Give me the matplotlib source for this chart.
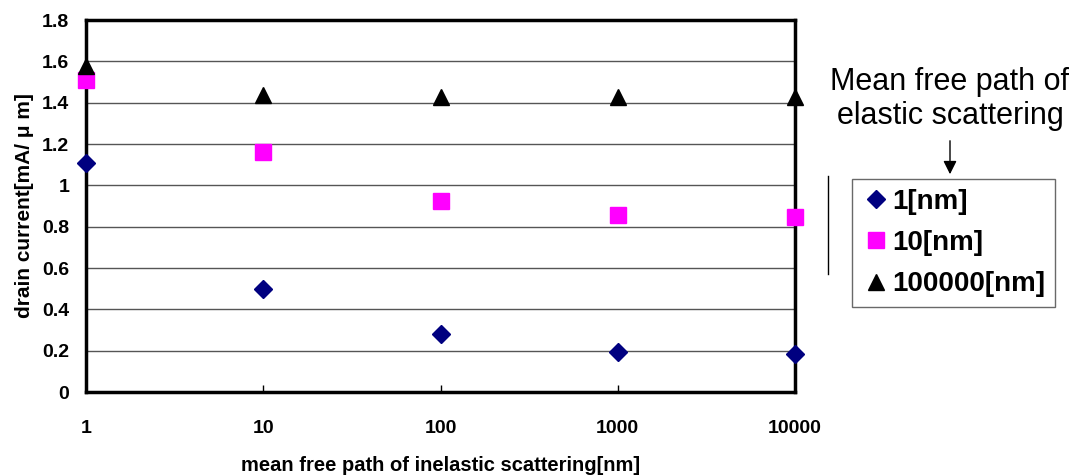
import numpy as np
import matplotlib
matplotlib.use("Agg")
import matplotlib.pyplot as plt

plt.rcParams['font.family'] = ['Liberation Sans', 'DejaVu Sans']

# mean free path of inelastic scattering [nm]
x_inel = [1, 10, 100, 1000, 10000]
# drain current for each elastic mean free path
cur_1nm = [1.108, 0.498, 0.28, 0.194, 0.184]
cur_10nm = [1.51, 1.16, 0.924, 0.856, 0.847]
cur_1e5nm = [1.577, 1.437, 1.428, 1.428, 1.428]
labels = ["1[nm]", "10[nm]", "100000[nm]"]
yticks = [0, 0.2, 0.4, 0.6, 0.8, 1, 1.2, 1.4, 1.6, 1.8]

fig = plt.figure(figsize=(10.76, 4.75), dpi=100)
ax = fig.add_axes([0.0799, 0.1747, 0.659, 0.783])

ax.plot(x_inel, cur_1nm, linestyle="none", marker="D", color="#000080",
        markersize=9, label=labels[0], clip_on=False, zorder=5)
ax.plot(x_inel, cur_10nm, linestyle="none", marker="s", color="#ff00ff",
        markersize=11, label=labels[1], clip_on=False, zorder=5)
ax.plot(x_inel, cur_1e5nm, linestyle="none", marker="^", color="black",
        markersize=12, label=labels[2], clip_on=False, zorder=5)

ax.set_xscale("log")
ax.set_xlim(1, 10000)
ax.set_ylim(0, 1.8)
ax.set_yticks(yticks)
ax.set_yticklabels(["0", "0.2", "0.4", "0.6", "0.8", "1", "1.2", "1.4", "1.6", "1.8"])
ax.set_xticks(x_inel)
ax.set_xticklabels(["1", "10", "100", "1000", "10000"])
ax.minorticks_off()
ax.yaxis.grid(True, color="#555555", linewidth=1)
ax.set_axisbelow(True)
for s in ax.spines.values():
    s.set_linewidth(2.5)
ax.tick_params(axis="x", direction="in", length=5, width=1, pad=20, labelsize=14)
ax.tick_params(axis="y", length=0, pad=12, labelsize=14)
for t in ax.get_xticklabels() + ax.get_yticklabels():
    t.set_fontweight("bold")

ax.set_xlabel("mean free path of inelastic scattering[nm]", fontsize=14.5,
              fontweight="bold", labelpad=14)
ax.set_ylabel("drain current[mA/ \u03bc m]", fontsize=15, fontweight="bold",
              labelpad=6)

leg = fig.legend(loc="upper left", bbox_to_anchor=(852 / 1076, 1 - 179 / 475),
                 frameon=True, fancybox=False, edgecolor="#444444",
                 prop={"size": 20, "weight": "bold"}, handletextpad=0.1,
                 handlelength=1.0, borderpad=0.35, labelspacing=0.55,
                 borderaxespad=0)
leg.get_frame().set_linewidth(1)

fig.text(950 / 1076, 1 - 99 / 475, "Mean free path of\nelastic scattering",
         ha="center", va="center", fontsize=22, linespacing=1.15)
fig.add_artist(matplotlib.patches.FancyArrowPatch(
    (950 / 1076, 1 - 138 / 475), (950 / 1076, 1 - 177 / 475),
    transform=fig.transFigure, arrowstyle="-|>", mutation_scale=20,
    color="black", linewidth=1))
fig.add_artist(matplotlib.lines.Line2D([828 / 1076, 828 / 1076],
                                       [1 - 176 / 475, 1 - 274 / 475],
                                       transform=fig.transFigure,
                                       color="black", linewidth=1))

fig.savefig("out.png", dpi=100)
